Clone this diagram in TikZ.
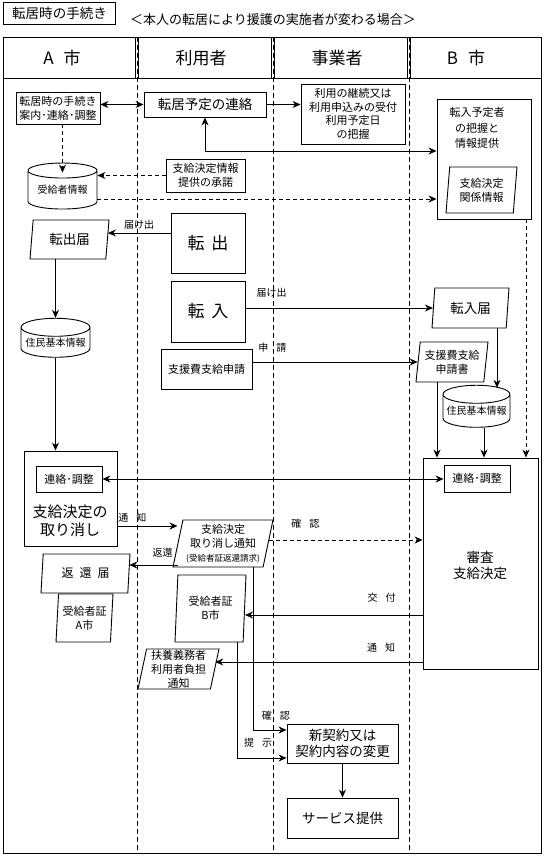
\documentclass[tikz,border=0pt]{standalone}
\usepackage{fontspec}
\setmainfont{Noto Sans CJK JP}
\usetikzlibrary{arrows.meta,shapes.geometric}

\begin{document}
\begin{tikzpicture}[x=1pt,y=-1pt,line width=0.9pt,
    >={Stealth[length=8pt,width=7pt]},
    every node/.style={inner sep=0pt},
    box/.style={draw,rectangle,align=center},
    slip/.style 2 args={draw,trapezium,trapezium left angle=#1,
      trapezium right angle=#2,trapezium stretches body,align=center},
    drum/.style={draw,cylinder,shape border rotate=90,aspect=0.3,align=center},
    lane/.style={dash pattern=on 5pt off 3pt},
    flow/.style={dash pattern=on 4pt off 3pt},
    lbl/.style={font=\fontsize{10pt}{12pt}\selectfont},
    fcyl/.style={font=\fontsize{10pt}{12pt}\selectfont},
    fsmall/.style={font=\fontsize{11pt}{14pt}\selectfont},
    fbody/.style={font=\fontsize{13.5pt}{16pt}\selectfont},
    flarge/.style={font=\fontsize{15pt}{18pt}\selectfont},
    fbig/.style={font=\fontsize{17pt}{20pt}\selectfont}]
  \fill[white] (0,0) rectangle (548,864);
  \useasboundingbox (0,0) rectangle (548,864);
  % heading
  \node[box,fbody,minimum width=112pt,minimum height=22pt] (title) at (59.5,13.6) {転居時の手続き};
  \node[font=\fontsize{13pt}{15pt}\selectfont] (case) at (273,20) {＜本人の転居により援護の実施者が変わる場合＞};
  % lanes
  \draw (3,37) rectangle (541,853);
  \draw (3,78) -- (541,78);
  \foreach \x in {137,273,409} {
    \draw[lane] (\x,37) -- (\x,853);
    \draw[line width=0.6pt] (\x-1.6,37) -- (\x-1.6,78) (\x+1.6,37) -- (\x+1.6,78);
  }
  \node[fbig] (hA) at (62,58) {A\hspace{10pt}市};
  \node[fbig] (hU) at (201,58) {利用者};
  \node[fbig] (hJ) at (337,58) {事業者};
  \node[fbig] (hB) at (466,58) {B\hspace{10pt}市};
  % A city
  \node[box,fsmall,minimum width=84pt,minimum height=32pt] (aguide) at (58,108) {転居時の手続き\\案内･連絡･調整};
  \node[drum,fcyl,minimum width=69pt,minimum height=46pt] (ajukyu) at (62.5,190) {受給者情報};
  \node[slip={75.6}{104.4},fbody,minimum width=79pt,minimum height=39pt] (atodoke) at (69.5,239.5) {転出届};
  \node[drum,fcyl,minimum width=69pt,minimum height=39pt] (ajumin) at (55.5,342.5) {住民基本情報};
  \node[box,minimum width=93pt,minimum height=95pt] (acancel) at (70.5,498.5) {};
  \node[box,fsmall,minimum width=66pt,minimum height=26pt] (arenraku) at (69,479) {連絡･調整};
  \node[flarge,align=center] (acanceltxt) at (70,521) {支給決定の\\取り消し};
  \node[slip={78.4}{101.6},font=\fontsize{12pt}{14pt}\selectfont,minimum width=89pt,minimum height=39pt] (ahenkan) at (85.5,573.5) {返\hspace{6pt}還\hspace{6pt}届};
  \node[slip={84}{96},fsmall,minimum width=57pt,minimum height=48pt] (ashoA) at (84.5,618) {受給者証\\A市};
  % user
  \node[box,fbody,minimum width=122pt,minimum height=25pt] (urenraku) at (205,104.5) {転居予定の連絡};
  \node[box,fsmall,minimum width=79pt,minimum height=33pt] (ushodaku) at (205.5,175.5) {支給決定情報\\提供の承諾};
  \node[box,fbig,minimum width=74pt,minimum height=60pt] (utenshutsu) at (208,243) {転\hspace{7pt}出};
  \node[box,fbig,minimum width=74pt,minimum height=61pt] (utennyu) at (208,311.5) {転\hspace{7pt}入};
  \node[box,fsmall,minimum width=91pt,minimum height=40pt] (ushinsei) at (206.5,369) {支援費支給申請};
  \node[slip={75.7}{104.3},fsmall,minimum width=100pt,minimum height=47pt] (utsuchi) at (223,543.5)
    {支給決定\\取り消し通知\\{\fontsize{8.5pt}{10pt}\selectfont(受給者証返還請求)}};
  \node[slip={83.2}{96.8},fsmall,minimum width=71pt,minimum height=67pt] (ushoB) at (210.5,608.5) {受給者証\\B市};
  \node[slip={77.3}{102.7},fsmall,minimum width=81pt,minimum height=40pt] (ufuyou) at (178.5,669) {扶養義務者\\利用者負担\\通知};
  % provider
  \node[box,font=\fontsize{11pt}{13.5pt}\selectfont,minimum width=104pt,minimum height=60pt] (jkeizoku) at (353,114)
    {利用の継続又は\\利用申込みの受付\\利用予定日\\の把握};
  \node[box,fbody,minimum width=111pt,minimum height=39pt] (jshinki) at (342.5,743.5) {新契約又は\\契約内容の変更};
  \node[box,fbody,minimum width=111pt,minimum height=40pt] (jservice) at (342.5,818) {サービス提供};
  % B city
  \node[box,minimum width=94pt,minimum height=120pt] (byotei) at (484,159) {};
  \node[font=\fontsize{11pt}{15.5pt}\selectfont,align=center] (byoteitxt) at (477,128) {転入予定者\\の把握と\\情報提供};
  \node[slip={81.3}{98.7},fsmall,minimum width=71pt,minimum height=46pt] (bkankei) at (481.5,190) {支給決定\\関係情報};
  \node[slip={77.3}{102.7},fbody,minimum width=77pt,minimum height=40pt] (btodoke) at (470.5,308) {転入届};
  \node[slip={80.1}{99.9},fsmall,minimum width=72pt,minimum height=40pt] (bshinsei) at (452,362) {支援費支給\\申請書};
  \node[drum,fcyl,minimum width=67pt,minimum height=42pt] (bjumin) at (476.5,411) {住民基本情報};
  \node[box,minimum width=115pt,minimum height=211pt] (bshinsa) at (480.5,563.5) {};
  \node[box,fsmall,minimum width=66pt,minimum height=27pt] (brenraku) at (477,478.5) {連絡･調整};
  \node[fbody,align=center] (bshinsatxt) at (480,565) {審査\\支給決定};
  % flows
  \draw[<->] (aguide.east |- urenraku.west) -- (urenraku.west);
  \draw[->] (urenraku.east) -- (urenraku.east -| jkeizoku.west);
  \draw[<->] (urenraku.south) |- ([yshift=8pt]byotei.west);
  \draw[flow,->] (aguide.south -| ajukyu.north) -- ([yshift=-10pt]ajukyu.north);
  \draw[flow,->] (ushodaku.west) -- (ushodaku.west -| ajukyu.east);
  \draw[flow,->] ([yshift=-9pt]ajukyu.east) -- ([yshift=-9pt]ajukyu.east -| byotei.west);
  \draw[->] ([yshift=10pt]utenshutsu.west) -- ([yshift=10pt]utenshutsu.west -| atodoke.east)
    node[lbl,pos=0.5,above=3pt] {届け出};
  \draw[->] (utennyu.east |- btodoke.west) -- (btodoke.west)
    node[lbl,pos=0.14,above=10pt] {届け出};
  \draw[->] (ushinsei.east |- bshinsei.west) -- (bshinsei.west)
    node[lbl,pos=0.12,above=9pt] {申\hspace{8pt}請};
  \draw[->] (ajumin.north |- atodoke.south) -- (ajumin.north);
  \draw[->] (ajumin.south) -- (ajumin.south |- acancel.north);
  \draw[->] ([xshift=20.5pt]bjumin.north |- btodoke.south) -- ([xshift=20.5pt,yshift=-3pt]bjumin.north);
  \draw[->] ([xshift=-43.5pt]bshinsa.north |- bshinsei.south) -- ([xshift=-43.5pt]bshinsa.north);
  \draw[->] ([xshift=3.5pt]bshinsa.north |- bjumin.south) -- ([xshift=3.5pt]bshinsa.north);
  \draw[flow,->] ([xshift=45.5pt]bshinsa.north |- byotei.south) -- ([xshift=45.5pt]bshinsa.north);
  \draw[<->] (arenraku.east) -- (arenraku.east -| brenraku.west);
  \draw[->] ([yshift=-27.5pt]acancel.east) -- ([yshift=-27.5pt]acancel.east -| utsuchi.west)
    node[lbl,pos=0.25,above=3pt] {通\hspace{8pt}知};
  \draw[->] ([yshift=-21.5pt]utsuchi.west) -- ([yshift=-21.5pt]utsuchi.west -| ahenkan.east)
    node[lbl,pos=0.31,above=7pt] {返還};
  \draw[flow,->] ([yshift=3.5pt]utsuchi.east) -- ([yshift=3.5pt]utsuchi.east -| bshinsa.west)
    node[lbl,pos=0.24,above=11pt] {確\hspace{8pt}認};
  \draw[->] ([yshift=-51.5pt]bshinsa.west) -- ([yshift=-51.5pt]bshinsa.west -| ushoB.east)
    node[lbl,pos=0.23,above=12pt] {交\hspace{8pt}付};
  \draw[->] ([yshift=-98.5pt]bshinsa.west) -- ([yshift=-98.5pt]bshinsa.west -| ufuyou.east)
    node[lbl,pos=0.2,above=9pt] {通\hspace{8pt}知};
  \draw[->] ([xshift=-10pt]utsuchi.bottom right corner) |- ([yshift=13.5pt]jshinki.west)
    node[lbl,pos=0.84,above=9pt] {確\hspace{8pt}認};
  \draw[->] ([xshift=-6pt]ushoB.bottom right corner) |- ([yshift=-14.5pt]jshinki.west)
    node[lbl,pos=0.71,above=10pt] {提\hspace{8pt}示};
  \draw[->] (jshinki.south) -- (jservice.north);
\end{tikzpicture}
\end{document}
